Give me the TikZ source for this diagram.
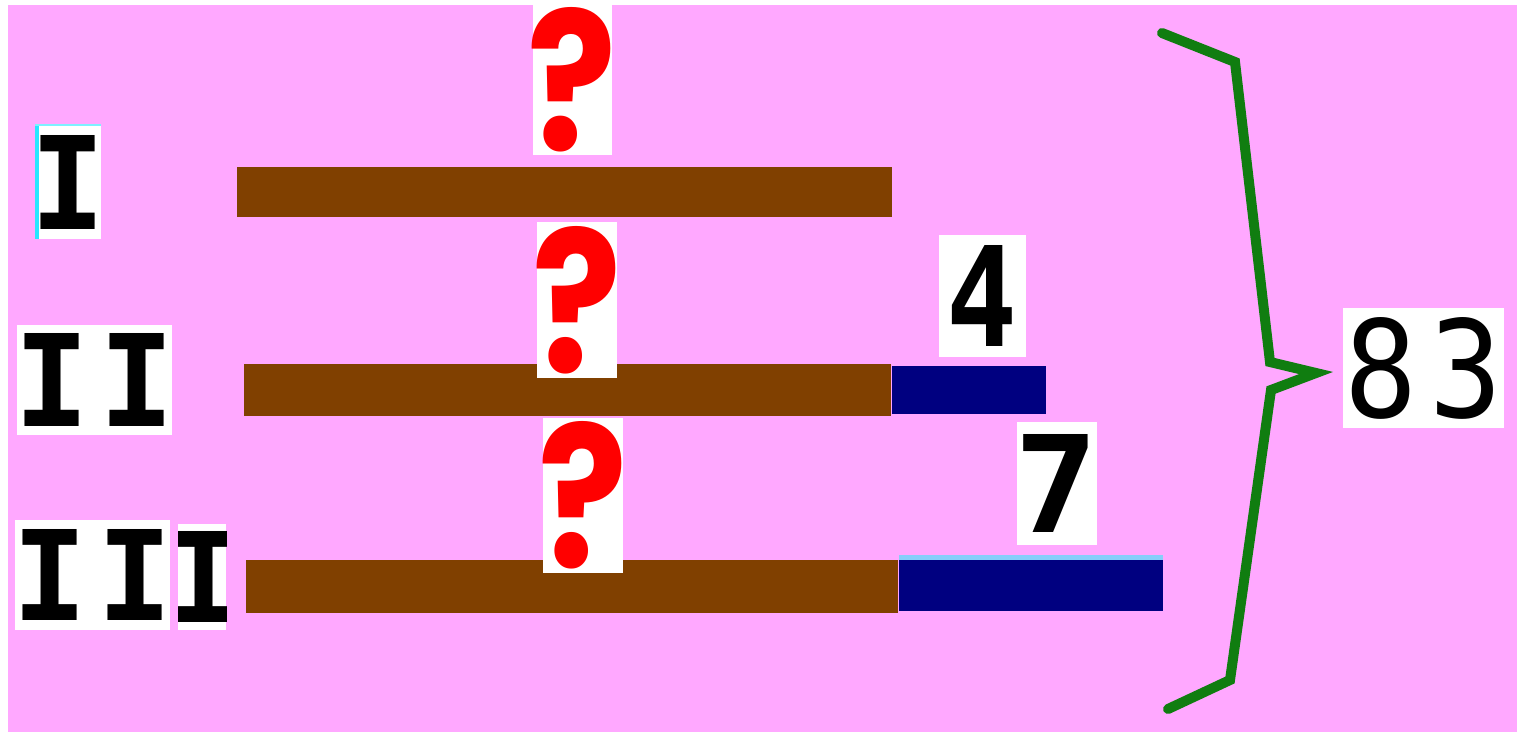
\documentclass[tikz,border=0pt]{standalone}
\usepackage{fontspec}
\newfontfamily\monof{DejaVu Sans Mono}
\newfontfamily\qfont{Poppins}
\definecolor{bgpink}{RGB}{255,168,255}
\definecolor{barbrown}{RGB}{128,64,0}
\definecolor{barnavy}{RGB}{0,0,128}
\definecolor{bracegreen}{RGB}{16,125,16}
\definecolor{qred}{RGB}{255,0,0}
\definecolor{edgecyan}{RGB}{40,230,255}
\definecolor{lineblue}{RGB}{135,206,250}
\tikzset{
  brownbar/.style={fill=barbrown},
  navybar/.style={fill=barnavy},
  wbox/.style={fill=white, draw=none, inner sep=0pt, outer sep=0pt, anchor=center},
  qmark/.style={wbox, text=qred},
  digit/.style={wbox, text=black},
}
\newcommand{\gl}[3]{\makebox[0pt]{\resizebox{#1}{#2}{#3}}}
\newcommand{\romI}[1]{\resizebox{75pt}{#1}{\monof\bfseries I}}
\newcommand{\qm}[1]{\gl{89pt}{#1}{\qfont\bfseries ?}}
\begin{document}
\begin{tikzpicture}[x=1pt,y={(0pt,-1pt)}]
\useasboundingbox (0,0) rectangle (1517,732);
\fill[white] (0,0) rectangle (1517,732);
\fill[bgpink] (8,5) rectangle (1517,732);

% bars
\fill[brownbar] (237,167) rectangle (892,217);
\fill[brownbar] (244,364) rectangle (891,416);
\fill[navybar] (892,366) rectangle (1046,414);
\fill[brownbar] (246,560) rectangle (898,613);
\fill[lineblue] (899,555) rectangle (1163,560);
\fill[navybar] (899,560) rectangle (1163,611);

% row labels
\node[digit, minimum width=66pt, minimum height=114pt] (l1) at (68,182)
  {\makebox[0pt]{\romI{94pt}}};
\fill[edgecyan] (l1.north west) rectangle ++(4,114);
\draw[edgecyan!60, line width=1.5pt] (l1.north west) -- (l1.north east);
\node[digit, minimum width=155pt, minimum height=110pt] (l2) at (94.5,380)
  {\makebox[0pt]{\romI{93pt}\hspace{9.5pt}\romI{93pt}}};
\node[digit, minimum width=155pt, minimum height=110pt] (l3a) at (92.5,575)
  {\makebox[0pt]{\romI{91pt}\hspace{9.5pt}\romI{91pt}}};
\node[wbox, minimum width=48pt, minimum height=106pt] (l3b) at (202,577) {};
\begin{scope}
  \clip (l3b.north west) rectangle (l3b.south east);
  \node[digit, fill=none] (l3c) at (204,577) {\makebox[0pt]{\romI{91pt}}};
\end{scope}

% question marks
\node[qmark, minimum width=79pt, minimum height=150pt] (q1) at (572.5,80) {\qm{143pt}};
\node[qmark, minimum width=80pt, minimum height=156pt] (q2) at (577,300) {\qm{146pt}};
\node[qmark, minimum width=80pt, minimum height=155pt] (q3) at (583,495.5) {\qm{146pt}};

% numbers
\node[digit, minimum width=87pt, minimum height=122pt] (n4) at (982.5,296)
  {\gl{71pt}{101pt}{\monof\bfseries 4}};
\node[digit, minimum width=80pt, minimum height=123pt] (n7) at (1057,483.5)
  {\gl{84pt}{98pt}{\monof\bfseries 7}};
\node[digit, minimum width=161pt, minimum height=120pt] (n83) at (1423.5,368)
  {\makebox[0pt]{\resizebox{73pt}{100pt}{\monof 8}\hspace{11pt}\resizebox{73pt}{100pt}{\monof 3}}};

% brace
\coordinate (b1) at (1162,33);
\coordinate (b2) at (1235,62);
\coordinate (b3) at (1270,362);
\coordinate (tip) at (1316,373);
\coordinate (b4) at (1271,390);
\coordinate (b5) at (1230,680);
\coordinate (b6) at (1168,709);
\draw[bracegreen, line width=10pt, line cap=round, line join=miter]
  (b1) -- (b2) -- (b3) -- (tip) -- (b4) -- (b5) -- (b6);
\end{tikzpicture}
\end{document}
